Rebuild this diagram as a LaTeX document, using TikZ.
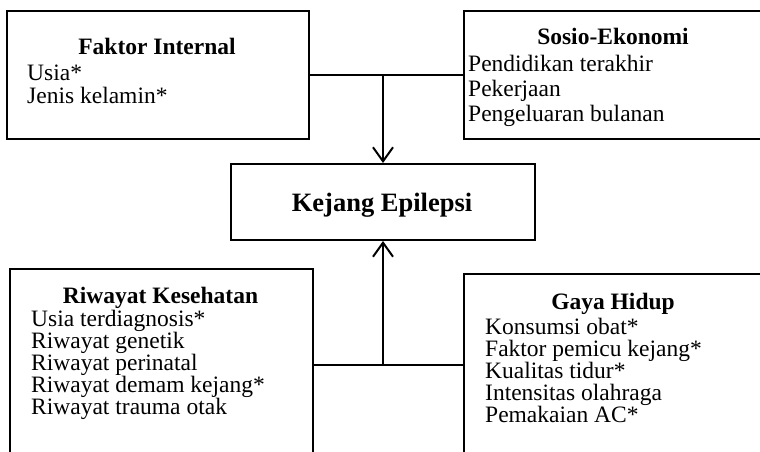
\documentclass[tikz,border=0pt]{standalone}
\usepackage{fontspec}
\setmainfont{Liberation Serif}
\usetikzlibrary{arrows.meta}
\begin{document}
\begin{tikzpicture}[x=1pt,y=-1pt,
  box/.style={draw, line width=2pt, rectangle, inner sep=0pt, anchor=north west},
  head/.style={font=\fontsize{23.5}{22}\selectfont\bfseries, inner sep=0pt, anchor=base},
  item/.style={font=\fontsize{23.5}{22}\selectfont, inner sep=0pt, anchor=base west},
  link/.style={line width=2pt},
  arr/.style={line width=2pt, -{Straight Barb[length=14pt,width=20pt,line width=2pt]}}]
\useasboundingbox (0,0) rectangle (760,452);
\clip (0,0) rectangle (760,452);

% frames
\node[box, minimum width=302pt, minimum height=128pt] (fi) at (6,10) {};
\node[box, minimum width=300pt, minimum height=128pt] (se) at (463,10) {};
\node[box, minimum width=304pt, minimum height=76pt] (ke) at (230,163) {};
\node[box, minimum width=303pt, minimum height=192pt] (rk) at (9,268) {};
\node[box, minimum width=300pt, minimum height=182pt] (gh) at (463,273) {};

% Faktor Internal
\node[head] (fih) at (157,55) {Faktor Internal};
\node[item] (fi1) at (27,81) {Usia*};
\node[item] (fi2) at (27,103) {Jenis kelamin*};

% Sosio-Ekonomi
\node[head] (seh) at (613,45) {Sosio-Ekonomi};
\node[item] (se1) at (468,71) {Pendidikan terakhir};
\node[item] (se2) at (468,96) {Pekerjaan};
\node[item] (se3) at (468,121) {Pengeluaran bulanan};

% Kejang Epilepsi
\node[inner sep=0pt, anchor=base, font=\fontsize{26.5}{30}\selectfont\bfseries] (keh) at (382,211) {Kejang Epilepsi};

% Riwayat Kesehatan
\node[head] (rkh) at (160.5,303) {Riwayat Kesehatan};
\node[item] (rk1) at (31,326) {Usia terdiagnosis*};
\node[item] (rk2) at (31,348) {Riwayat genetik};
\node[item] (rk3) at (31,370) {Riwayat perinatal};
\node[item] (rk4) at (31,392) {Riwayat demam kejang*};
\node[item] (rk5) at (31,414) {Riwayat trauma otak};

% Gaya Hidup
\node[head] (ghh) at (613,309) {Gaya Hidup};
\node[item] (gh1) at (485,334) {Konsumsi obat*};
\node[item] (gh2) at (485,356) {Faktor pemicu kejang*};
\node[item] (gh3) at (485,378) {Kualitas tidur*};
\node[item] (gh4) at (485,400) {Intensitas olahraga};
\node[item] (gh5) at (485,422) {Pemakaian AC*};

% connectors
\coordinate (jt) at (fi.east -| ke.north);
\coordinate (jb) at (rk.east -| ke.south);
\draw[link] (fi.east) -- (jt) -- (se.west);
\draw[arr] (jt) -- (ke.north);
\draw[link] (rk.east) -- (jb) -- (gh.west -| jb) -- (gh.west);
\draw[arr] (jb) -- (ke.south);
\end{tikzpicture}
\end{document}
